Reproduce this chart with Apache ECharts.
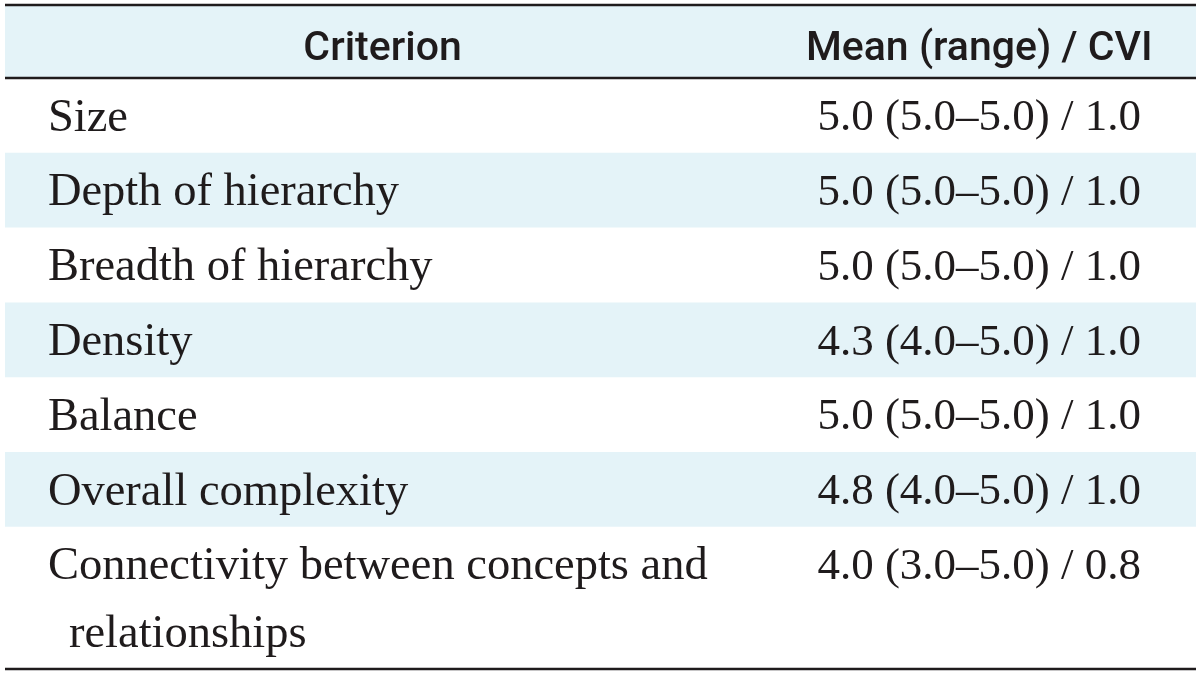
<!DOCTYPE html>
<html><head><meta charset="utf-8">
<script src="https://cdn.jsdelivr.net/npm/echarts@6/dist/echarts.min.js"></script>
<style>html,body{margin:0;padding:0;background:#fff}#c{width:1200px;height:674px}</style>
</head><body><div id="c"></div>
<script>
// ---- data ----
const headers = ['Criterion', 'Mean (range) / CVI'];
const criteria = ['Size', 'Depth of hierarchy', 'Breadth of hierarchy', 'Density', 'Balance',
  'Overall complexity', ['Connectivity between concepts and', 'relationships']];
const means = [5.0, 5.0, 5.0, 4.3, 5.0, 4.8, 4.0];
const rangeLow = [5.0, 5.0, 5.0, 4.0, 5.0, 4.0, 3.0];
const rangeHigh = [5.0, 5.0, 5.0, 5.0, 5.0, 5.0, 5.0];
const cvi = [1.0, 1.0, 1.0, 1.0, 1.0, 1.0, 0.8];

// ---- layout (in table units) ----
const HEADER_H = 0.975, LINE_STEP = 0.9;
const COL1_LEFT = 0.036, COL1_CENTER = 0.317, COL2_CENTER = 0.818, INDENT = 0.0177;
const TEXT = '#1f1b1c', BAND = '#e4f3f8';
const SERIF = "'Liberation Serif', 'Times New Roman', serif";
const SANS = "Roboto, 'Open Sans', sans-serif";

const rows = [{ header: true, y0: 0, y1: HEADER_H, shaded: true }];
let y = HEADER_H;
criteria.forEach((c, i) => {
  const lines = Array.isArray(c) ? c : [c];
  const h = 1 + LINE_STEP * (lines.length - 1);
  rows.push({ header: false, i, lines, y0: y, y1: y + h, shaded: i % 2 === 1 });
  y += h;
});
const TOTAL = y;
const fmt = v => v.toFixed(1);
const valueText = i => `${fmt(means[i])} (${fmt(rangeLow[i])}–${fmt(rangeHigh[i])}) / ${fmt(cvi[i])}`;

function renderRow(params, api) {
  const row = rows[api.value(0)];
  const p0 = api.coord([0, row.y0]);
  const p1 = api.coord([1, row.y1]);
  const unit = api.size([0, 1])[1];
  const children = [];
  if (row.shaded) {
    children.push({ type: 'rect', shape: { x: p0[0], y: p0[1], width: p1[0] - p0[0], height: p1[1] - p0[1] },
      style: { fill: BAND } });
  }
  const xAt = v => api.coord([v, 0])[0];
  if (row.header) {
    const mid = p0[1] + unit * 0.6;
    [[headers[0], COL1_CENTER], [headers[1], COL2_CENTER]].forEach(([t, x]) => {
      children.push({ type: 'text', style: { text: t, x: xAt(x), y: mid, align: 'center', verticalAlign: 'middle',
        fill: TEXT, fontSize: 41, fontFamily: SANS, fontWeight: 500 } });
    });
  } else {
    const mid = p0[1] + unit * 0.54;
    row.lines.forEach((t, k) => {
      children.push({ type: 'text', style: { text: t, x: xAt(COL1_LEFT + (k > 0 ? INDENT : 0)),
        y: mid + k * LINE_STEP * unit, align: 'left', verticalAlign: 'middle',
        fill: TEXT, fontSize: 46.5, fontFamily: SERIF } });
    });
    children.push({ type: 'text', style: { text: valueText(row.i), x: xAt(COL2_CENTER), y: mid,
      align: 'center', verticalAlign: 'middle', fill: TEXT, fontSize: 45, fontFamily: SERIF } });
  }
  return { type: 'group', children };
}

const rules = [0, HEADER_H, TOTAL];
function renderRule(params, api) {
  const yv = rules[api.value(0)];
  const a = api.coord([0, yv]), b = api.coord([1, yv]);
  return { type: 'line', shape: { x1: a[0], y1: a[1], x2: b[0], y2: b[1] },
    style: { stroke: TEXT, lineWidth: 2.5 } };
}

const chart = echarts.init(document.getElementById('c'), null, { renderer: 'canvas' });
chart.setOption({
  animation: false,
  grid: { left: 5, right: 4, top: 5, bottom: 5 },
  xAxis: { type: 'value', min: 0, max: 1, show: false },
  yAxis: { type: 'value', min: 0, max: TOTAL, inverse: true, show: false },
  series: [
    { type: 'custom', renderItem: renderRow, data: rows.map((r, i) => [i]), z: 1, clip: false },
    { type: 'custom', renderItem: renderRule, data: rules.map((r, i) => [i]), z: 2, clip: false }
  ]
});
</script></body></html>
